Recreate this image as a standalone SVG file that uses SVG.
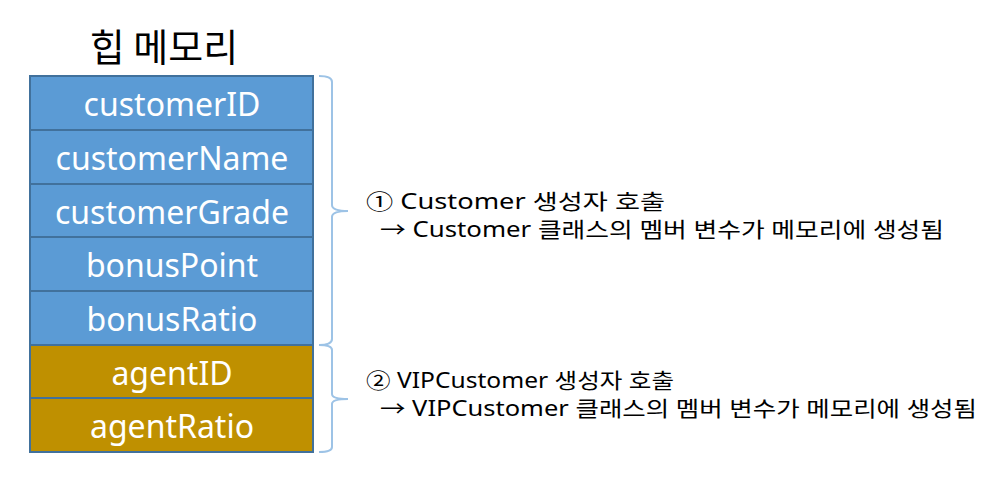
<svg xmlns="http://www.w3.org/2000/svg" width="1005" height="491" viewBox="0 0 1005 491">
<style>
.cell{stroke:#41719C;stroke-width:2}
.blue{fill:#5B9BD5}
.gold{fill:#BF9000}
.ct{font-family:"Noto Sans","Noto Sans CJK KR",sans-serif;font-size:32px;fill:#FFFFFF;text-anchor:middle}
.lbl{font-family:"Noto Sans","Noto Sans CJK KR",sans-serif;font-size:21px;fill:#000000}
.title{font-family:"Noto Sans CJK KR",sans-serif;font-size:38px;fill:#000000;text-anchor:middle}
.br{fill:none;stroke:#9DC3E6;stroke-width:2}
</style>
<rect width="1005" height="491" fill="#FFFFFF"/>
<text class="title" x="164" y="61">힙 메모리</text>
<g id="customerID"><rect class="cell blue" x="30" y="76" width="283" height="54"/><text class="ct" x="172" y="116">customerID</text></g>
<g id="customerName"><rect class="cell blue" x="30" y="130" width="283" height="54"/><text class="ct" x="172" y="170">customerName</text></g>
<g id="customerGrade"><rect class="cell blue" x="30" y="184" width="283" height="53"/><text class="ct" x="172" y="224">customerGrade</text></g>
<g id="bonusPoint"><rect class="cell blue" x="30" y="237" width="283" height="54"/><text class="ct" x="172" y="277">bonusPoint</text></g>
<g id="bonusRatio"><rect class="cell blue" x="30" y="291" width="283" height="54"/><text class="ct" x="172" y="331">bonusRatio</text></g>
<g id="agentID"><rect class="cell gold" x="30" y="345" width="283" height="53"/><text class="ct" x="172" y="385">agentID</text></g>
<g id="agentRatio"><rect class="cell gold" x="30" y="398" width="283" height="54"/><text class="ct" x="172" y="438">agentRatio</text></g>
<g id="connectors">
<path class="br" d="M319,76 Q332,76 332,82 L332,205 Q332,211 348,211 Q332,211 332,217 L332,339 Q332,345 319,345"/>
<path class="br" d="M319,345 Q332,345 332,350 L332,394 Q332,399 348,399 Q332,399 332,404 L332,447 Q332,452 319,452"/>
</g>
<g id="note1">
<text class="lbl" x="366" y="209" textLength="299" lengthAdjust="spacingAndGlyphs">① Customer 생성자 호출</text>
<text class="lbl" x="380" y="237" textLength="564" lengthAdjust="spacingAndGlyphs">→ Customer 클래스의 멤버 변수가 메모리에 생성됨</text>
</g>
<g id="note2">
<text class="lbl" x="366" y="388" textLength="308" lengthAdjust="spacingAndGlyphs">② VIPCustomer 생성자 호출</text>
<text class="lbl" x="380" y="416" textLength="597" lengthAdjust="spacingAndGlyphs">→ VIPCustomer 클래스의 멤버 변수가 메모리에 생성됨</text>
</g>
</svg>
